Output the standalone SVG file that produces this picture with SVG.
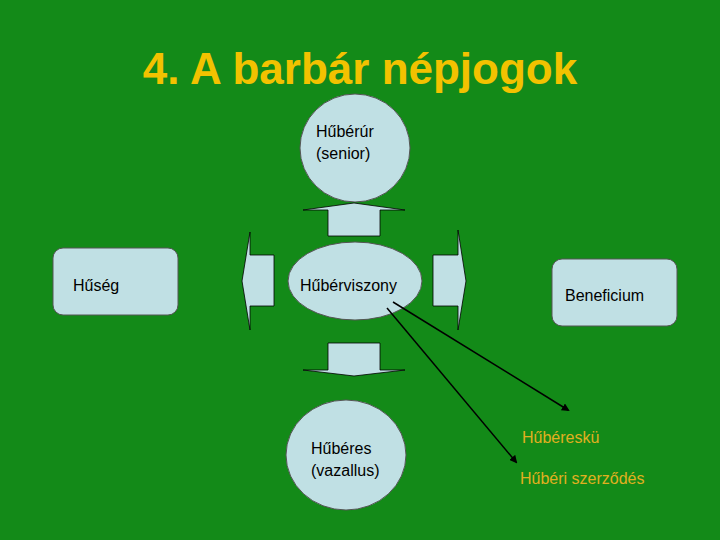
<svg xmlns="http://www.w3.org/2000/svg" width="720" height="540" viewBox="0 0 720 540">
<style>
.s{fill:#c0e0e4;stroke:#555;stroke-width:1}
.t{font-family:"Liberation Sans",Arial,sans-serif;font-size:16px;fill:#000}
.g{font-family:"Liberation Sans",Arial,sans-serif;font-size:16px;fill:#e0b020}
.ar{fill:#c0e0e4;stroke:#000;stroke-width:0.8}
</style>
<defs><marker id="m" markerWidth="8" markerHeight="8" refX="6" refY="4" orient="auto" markerUnits="userSpaceOnUse"><path d="M0,0 L8,4 L0,8z" fill="#000"/></marker></defs>
<rect width="720" height="540" fill="#138a18"/>
<text x="360" y="84" text-anchor="middle" font-family="Liberation Sans,Arial,sans-serif" font-size="44" font-weight="bold" fill="#f2c200">4. A barbár népjogok</text>
<g id="senior"><ellipse class="s" cx="355" cy="148" rx="55" ry="54"/><text class="t" x="316" y="137">Hűbérúr</text><text class="t" x="316" y="159">(senior)</text></g>
<g id="viszony"><ellipse class="s" cx="355" cy="281" rx="67" ry="39"/><text class="t" x="300" y="291">Hűbérviszony</text></g>
<g id="vazallus"><ellipse class="s" cx="346" cy="455" rx="60" ry="55"/><text class="t" x="311" y="454">Hűbéres</text><text class="t" x="311" y="476">(vazallus)</text></g>
<g id="huseg"><rect class="s" x="53" y="248" width="125" height="67" rx="10"/><text class="t" x="73" y="291">Hűség</text></g>
<g id="benef"><rect class="s" x="552" y="259" width="125" height="67" rx="10"/><text class="t" x="565" y="301">Beneficium</text></g>
<g id="eskü"><text class="g" x="522" y="443">Hűbéreskü</text></g>
<g id="szerz"><text class="g" x="520" y="484">Hűbéri szerződés</text></g>
<g id="connectors">
<path class="ar" d="M328,236 V210 H303 L354,203 L405,210 H380 V236 Z"/>
<path class="ar" d="M328,343 V370 H303 L354,376 L405,370 H380 V343 Z"/>
<path class="ar" d="M274,255 H250 V232 L242,281 L250,330 V306 H274 Z"/>
<path class="ar" d="M433,255 H458 V230 L466,281 L458,330 V306 H433 Z"/>
<line x1="393" y1="302" x2="568" y2="410" stroke="#000" stroke-width="1.5" marker-end="url(#m)"/>
<line x1="387" y1="308" x2="516" y2="462" stroke="#000" stroke-width="1.5" marker-end="url(#m)"/>
</g>
</svg>
